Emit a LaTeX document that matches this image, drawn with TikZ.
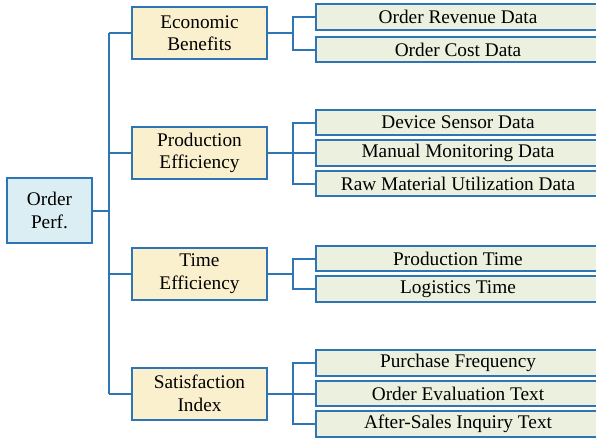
\documentclass[tikz,border=0pt]{standalone}
\usepackage{fontspec}
\setmainfont{Liberation Serif}
\newfontfamily\boxfont{Liberation Serif}
\usepackage{tikz}
\usetikzlibrary{positioning}

\definecolor{edgeblue}{HTML}{2E75B6}
\definecolor{rootfill}{HTML}{DBEEF4}
\definecolor{midfill}{HTML}{FBF0CE}
\definecolor{leaffill}{HTML}{EBF1DE}

\tikzset{
  box/.style={draw=edgeblue, line width=2pt, align=center, inner sep=0pt,
    font=\boxfont\fontsize{19.3}{22.5}\selectfont},
  rootbox/.style={box, fill=rootfill, minimum width=85pt, minimum height=65pt},
  midbox/.style={box, fill=midfill, minimum width=135pt, minimum height=52pt},
  leafbox/.style={box, fill=leaffill, minimum width=284pt, minimum height=25.5pt},
  link/.style={edgeblue, line width=2pt}
}

\begin{document}
\begin{tikzpicture}[x=1pt, y=-1pt]
  \useasboundingbox (0,0) rectangle (596,439);
  \clip (0,0) rectangle (596,439);

  % root and middle level
  \node[rootbox] (root) at (49.5,210.5) {Order\\Perf.};
  \node[midbox] (eco) at (199.5,33) {Economic\\Benefits};
  \node[midbox] (pro) at (199.5,153) {Production\\Efficiency};
  \node[midbox] (tim) at (199.5,273.5) {Time\\Efficiency};
  \node[midbox] (sat) at (199.5,393.5) {Satisfaction\\Index};

  % leaves
  \node[leafbox] (rev) at (458,17) {Order Revenue Data};
  \node[leafbox] (cost) at (458,49.5) {Order Cost Data};
  \node[leafbox] (sens) at (458,122.5) {Device Sensor Data};
  \node[leafbox] (man) at (458,153) {Manual Monitoring Data};
  \node[leafbox] (raw) at (458,183.5) {Raw Material Utilization Data};
  \node[leafbox] (ptime) at (458,258.5) {Production Time};
  \node[leafbox] (ltime) at (458,289) {Logistics Time};
  \node[leafbox] (freq) at (458,363) {Purchase Frequency};
  \node[leafbox] (eval) at (458,393.5) {Order Evaluation Text};
  \node[leafbox] (inq) at (458,424) {After-Sales Inquiry Text};

  % trunk
  \coordinate (tr) at (109,0);
  \coordinate (br) at (293,0);
  \draw[link] (root.east) -- (root.east -| tr);
  \draw[link] (eco.west -| tr) -- (sat.west -| tr);
  \foreach \m in {eco,pro,tim,sat}
    \draw[link] (\m.west -| tr) -- (\m.west);

  % brackets
  \foreach \m/\l in {eco/rev, eco/cost, pro/sens, pro/man, pro/raw,
                     tim/ptime, tim/ltime, sat/freq, sat/eval, sat/inq}
    \draw[link] (\m.east) -- (\m.east -| br) |- (\l.west);
\end{tikzpicture}
\end{document}
